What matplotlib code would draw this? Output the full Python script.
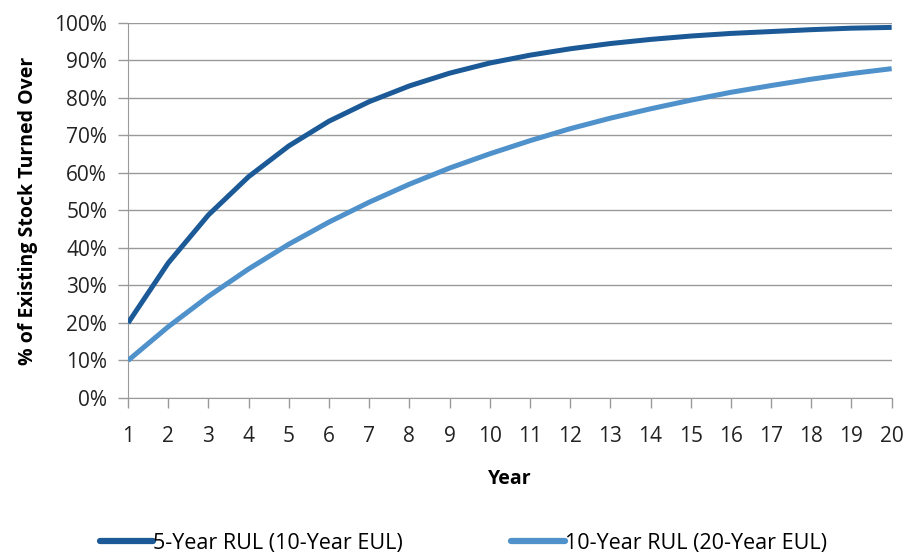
import matplotlib
matplotlib.use("Agg")
import matplotlib.pyplot as plt
from matplotlib.ticker import PercentFormatter

years = list(range(1, 21))
rul5 = [20.0, 36.0, 48.8, 59.0, 67.2, 73.8, 79.0, 83.2, 86.6, 89.3,
        91.4, 93.1, 94.5, 95.6, 96.5, 97.2, 97.7, 98.2, 98.6, 98.8]
rul10 = [10.0, 19.0, 27.1, 34.4, 41.0, 46.9, 52.2, 57.0, 61.3, 65.1,
         68.6, 71.8, 74.6, 77.1, 79.4, 81.5, 83.3, 85.0, 86.5, 87.8]
series_names = ["5-Year RUL (10-Year EUL)", "10-Year RUL (20-Year EUL)"]

plt.rcParams['font.family'] = ['Open Sans', 'DejaVu Sans']

fig = plt.figure(figsize=(9.08, 5.59), dpi=100)
ax = fig.add_axes([0.141, 0.288, 0.841, 0.671])

dark = '#1B5A97'
light = '#4F91CB'
ax.plot(years, rul5, color=dark, lw=3.6, label=series_names[0], solid_capstyle='butt',
        solid_joinstyle='round', zorder=3)
ax.plot(years, rul10, color=light, lw=3.6, label=series_names[1], solid_capstyle='butt',
        solid_joinstyle='round', zorder=3)

ax.set_xlim(1, 20)
ax.set_ylim(0, 100)
ax.set_xticks(years)
ax.set_yticks(range(0, 101, 10))
ax.yaxis.set_major_formatter(PercentFormatter(decimals=0))
ax.grid(axis='y', color='#9a9a9a', lw=1)
ax.set_axisbelow(True)
for s in ['top', 'right']:
    ax.spines[s].set_visible(False)
for s in ['left', 'bottom']:
    ax.spines[s].set_color('#9a9a9a')
ax.tick_params(axis='both', colors='#9a9a9a', labelcolor='#222222', labelsize=15, length=7, width=1)
ax.tick_params(axis='x', pad=13)
ax.tick_params(axis='y', pad=8)

ax.set_xlabel('Year', fontsize=14, fontweight='bold', labelpad=16)
ax.set_ylabel('% of Existing Stock Turned Over', fontsize=14, fontweight='bold', labelpad=12)

leg = fig.legend(loc='lower center', bbox_to_anchor=(0.51, -0.025), ncol=2, frameon=False,
                 fontsize=15.5, handlelength=2.5, handletextpad=0.0, columnspacing=5.0)
for h in leg.get_lines():
    h.set_linewidth(4.5)
    h.set_solid_capstyle('round')

fig.savefig('out.png', dpi=100)
